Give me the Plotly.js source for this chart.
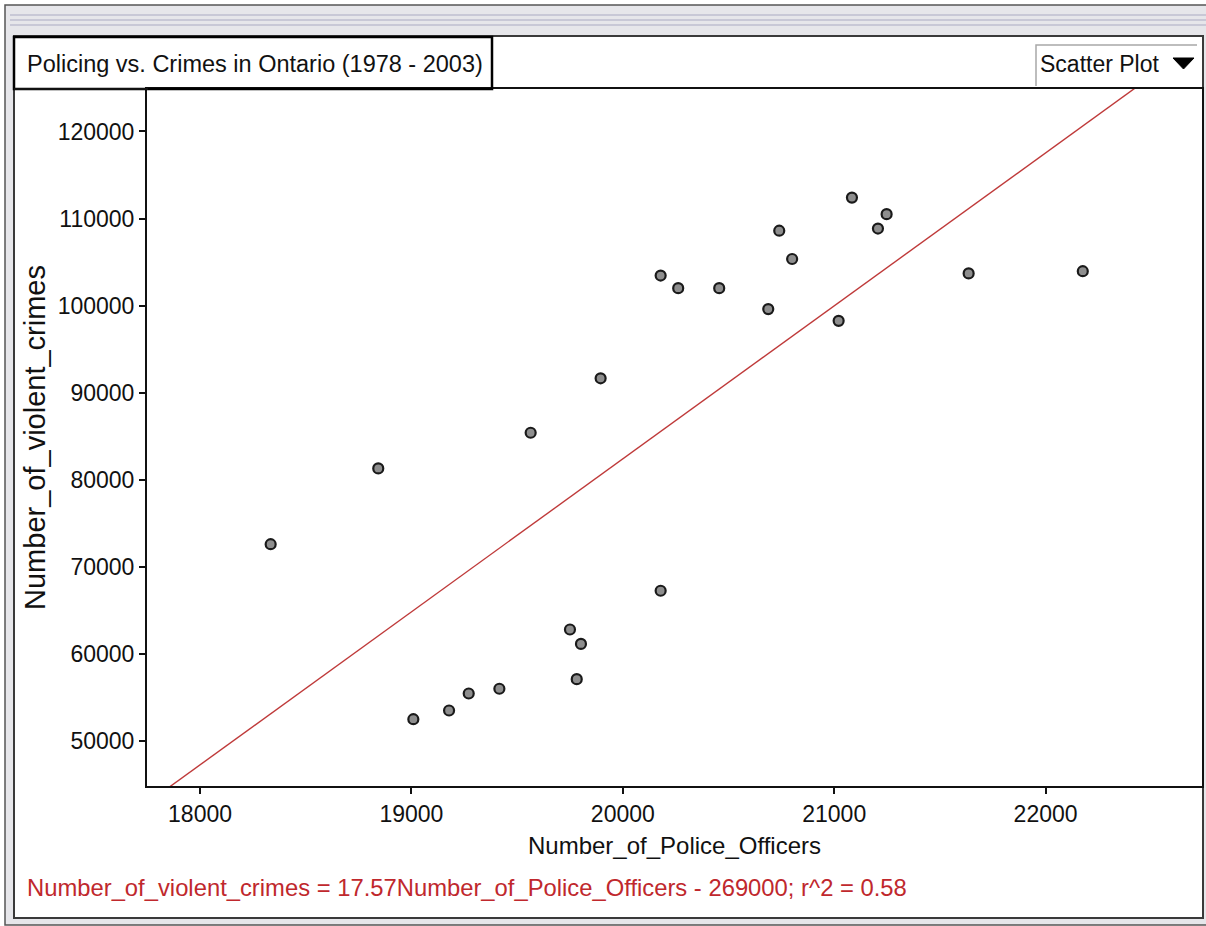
<!DOCTYPE html>
<html>
<head>
<meta charset="utf-8">
<script src="https://cdn.plot.ly/plotly-3.0.1.min.js"></script>
<style>
  html, body { margin: 0; padding: 0; background: #ffffff; }
  #chart { width: 1206px; height: 926px; }
</style>
</head>
<body>
<div id="chart"></div>
<script>
// ---- Data ----
const chartTitle = "Policing vs. Crimes in Ontario (1978 - 2003)";
const viewMode = "Scatter Plot";
const xLabel = "Number_of_Police_Officers";
const yLabel = "Number_of_violent_crimes";

const policeOfficers = [18334, 18843, 19009, 19178, 19271, 19416, 19564, 19750, 19782, 19802,
                        19895, 20179, 20179, 20262, 20456, 20688, 20740, 20801, 21084, 21021,
                        21207, 21248, 21636, 22176];
const violentCrimes  = [72600, 81300, 52500, 53500, 55450, 56000, 85400, 62800, 57100, 61150,
                        91650, 103450, 67250, 102000, 102000, 99600, 108600, 105350, 112400, 98250,
                        108850, 110500, 103700, 103950];

const slope = 17.57;
const intercept = -269000;
const rSquared = 0.58;

const xTickVals = [18000, 19000, 20000, 21000, 22000];
const yTickVals = [50000, 60000, 70000, 80000, 90000, 100000, 110000, 120000];
const xRange = [17749, 22740];
const yRange = [44830, 124874];

// ---- Layout helpers: pixel position of the frame -> paper coords ----
const W = 1206, H = 926;
const M = { l: 147, r: 4, t: 89, b: 140 };
const plotW = W - M.l - M.r, plotH = H - M.t - M.b;
const PX = px => (px - M.l) / plotW;
const PY = py => (H - M.b - py) / plotH;

const font = "Liberation Sans, Arial, sans-serif";
const ink = "#111111";
const red = "#c0282d";

const fitX = [xRange[0], xRange[1]];
const fitY = fitX.map(x => slope * x + intercept);

const traces = [
  {
    type: "scatter", mode: "lines",
    x: fitX, y: fitY,
    line: { color: "#bf3a3a", width: 1.4 },
    hoverinfo: "skip", showlegend: false
  },
  {
    type: "scatter", mode: "markers",
    x: policeOfficers, y: violentCrimes,
    marker: { size: 10, color: "#8e8e8e", line: { color: "#1a1a1a", width: 2.2 } },
    showlegend: false
  }
];

const equation = `${yLabel} = ${slope}${xLabel} - ${-intercept}; r^2 = ${rSquared}`;

const shapes = [
  // outer window frame
  { type: "rect", xref: "paper", yref: "paper", layer: "below",
    x0: PX(5), x1: PX(1230), y0: PY(925), y1: PY(5),
    fillcolor: "#e6e6ea", line: { color: "#555555", width: 1.5 } },
  // title-bar stripes
  { type: "line", xref: "paper", yref: "paper", layer: "below",
    x0: PX(10), x1: PX(1206), y0: PY(15), y1: PY(15), line: { color: "#c8c8d6", width: 2 } },
  { type: "line", xref: "paper", yref: "paper", layer: "below",
    x0: PX(10), x1: PX(1206), y0: PY(20), y1: PY(20), line: { color: "#c8c8d6", width: 2 } },
  { type: "line", xref: "paper", yref: "paper", layer: "below",
    x0: PX(10), x1: PX(1206), y0: PY(25), y1: PY(25), line: { color: "#c8c8d6", width: 2 } },
  // white panel
  { type: "rect", xref: "paper", yref: "paper", layer: "below",
    x0: PX(14), x1: PX(1203), y0: PY(918), y1: PY(36),
    fillcolor: "#ffffff", line: { color: "#3a3a3a", width: 2 } },
  // title box
  { type: "rect", xref: "paper", yref: "paper", layer: "above",
    x0: PX(14), x1: PX(492), y0: PY(89), y1: PY(37),
    line: { color: "#000000", width: 2.5 } },
  // line joining title box to plot top
  { type: "line", xref: "paper", yref: "paper", layer: "above",
    x0: PX(14), x1: PX(148), y0: PY(89), y1: PY(89), line: { color: "#111111", width: 2 } },
  // dropdown sunken border
  { type: "path", xref: "paper", yref: "paper", layer: "above",
    path: `M ${PX(1036)} ${PY(86)} L ${PX(1036)} ${PY(45)} L ${PX(1197)} ${PY(45)}`,
    line: { color: "#a8a8a8", width: 1.5 } },
  // dropdown arrow
  { type: "path", xref: "paper", yref: "paper", layer: "above",
    path: `M ${PX(1173)} ${PY(58)} L ${PX(1194)} ${PY(58)} L ${PX(1183.5)} ${PY(69)} Z`,
    fillcolor: "#000000", line: { color: "#000000", width: 1 } }
];

const annotations = [
  { xref: "paper", yref: "paper", x: PX(25), y: PY(64), xanchor: "left", yanchor: "middle",
    text: chartTitle, showarrow: false, font: { family: font, size: 23.5, color: ink } },
  { xref: "paper", yref: "paper", x: PX(1038), y: PY(64), xanchor: "left", yanchor: "middle",
    text: viewMode, showarrow: false, font: { family: font, size: 23, color: ink } },
  { xref: "paper", yref: "paper", x: PX(25), y: PY(888), xanchor: "left", yanchor: "middle",
    text: equation, showarrow: false, font: { family: font, size: 23.8, color: red } }
];

const layout = {
  width: W, height: H,
  margin: M,
  paper_bgcolor: "#ffffff",
  plot_bgcolor: "#ffffff",
  showlegend: false,
  xaxis: {
    range: xRange, tickvals: xTickVals, tickformat: "d",
    ticks: "outside", ticklen: 6, tickwidth: 2, tickcolor: ink,
    showline: true, linewidth: 2, linecolor: ink, mirror: true,
    showgrid: false, zeroline: false,
    tickfont: { family: font, size: 23, color: ink },
    title: { text: xLabel, font: { family: font, size: 24, color: ink }, standoff: 12 }
  },
  yaxis: {
    range: yRange, tickvals: yTickVals, tickformat: "d",
    ticks: "outside", ticklen: 6, tickwidth: 2, tickcolor: ink,
    showline: true, linewidth: 2, linecolor: ink, mirror: true,
    showgrid: false, zeroline: false,
    tickfont: { family: font, size: 23, color: ink },
    title: { text: yLabel, font: { family: font, size: 29, color: ink }, standoff: 4 }
  },
  shapes: shapes,
  annotations: annotations
};

Plotly.newPlot("chart", traces, layout, { displayModeBar: false, staticPlot: true });
</script>
</body>
</html>
